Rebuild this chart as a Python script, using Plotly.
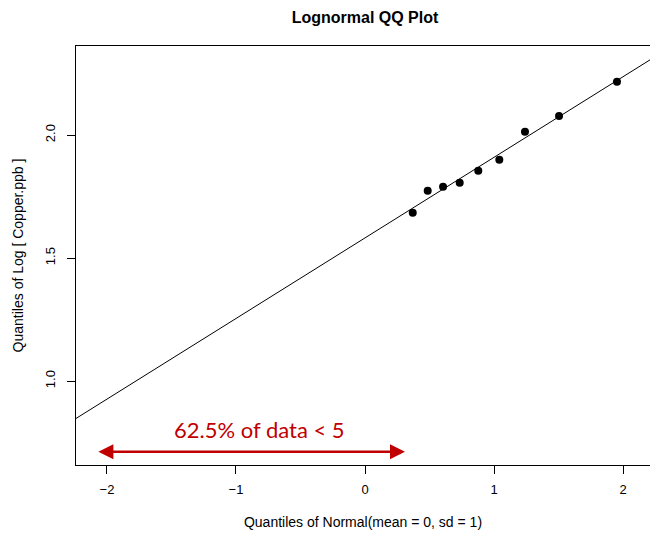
import plotly.graph_objects as go

# Normal scores and log10 copper values (uncensored portion of the sample)
normal_quantiles = [0.370, 0.486, 0.605, 0.734, 0.878, 1.041, 1.240, 1.504, 1.953]
log_copper = [1.684, 1.774, 1.790, 1.806, 1.855, 1.900, 2.013, 2.077, 2.217]

# Fitted QQ line
line_intercept = 1.582
line_slope = 0.3276

# Censoring annotation
censored_label = "62.5% of data < 5"
censored_span = [-2.078, 0.310]
censored_level = 0.713
label_pos = [-0.818, 0.805]

x_ticks = [-2, -1, 0, 1, 2]
y_ticks = [1.0, 1.5, 2.0]

x_range = [-2.240, 2.209]
y_range = [0.659, 2.362]

font_family = "Liberation Sans, Arial, Helvetica, sans-serif"
red = "#c00000"

fig = go.Figure()

line_x = x_range
line_y = [line_intercept + line_slope * v for v in line_x]
fig.add_trace(go.Scatter(
    x=line_x, y=line_y, mode="lines",
    line=dict(color="black", width=1), hoverinfo="skip", showlegend=False,
))

fig.add_trace(go.Scatter(
    x=normal_quantiles, y=log_copper, mode="markers",
    marker=dict(color="black", size=8), showlegend=False,
))

# Double-headed arrow marking the censored range
fig.add_annotation(
    x=censored_span[1], y=censored_level,
    ax=censored_span[0], ay=censored_level,
    xref="x", yref="y", axref="x", ayref="y",
    text="", showarrow=True, arrowside="end+start",
    arrowhead=2, arrowsize=1.2, arrowwidth=2.5, arrowcolor=red,
)
fig.add_annotation(
    x=label_pos[0], y=label_pos[1], xref="x", yref="y",
    text=censored_label, showarrow=False,
    font=dict(family="Lato, Open Sans, sans-serif", size=22, color=red),
)

fig.update_layout(
    width=650, height=533,
    margin=dict(l=76, r=0, t=46, b=68),
    paper_bgcolor="white", plot_bgcolor="white",
    font=dict(family=font_family, size=13, color="black"),
    title=dict(
        text="<b>Lognormal QQ Plot</b>", x=365 / 650, xref="container",
        xanchor="center", y=1 - 17 / 533, yref="container", yanchor="middle",
        font=dict(size=16, family=font_family, color="black"),
    ),
)

fig.update_xaxes(
    range=x_range, tickvals=x_ticks, ticks="outside", ticklen=8,
    ticklabelstandoff=4, tickfont=dict(size=13),
    tickcolor="black", showline=True, linecolor="black", linewidth=1,
    mirror=True, showgrid=False, zeroline=False,
    title=dict(text="Quantiles of Normal(mean = 0, sd = 1)", standoff=21,
               font=dict(size=14)),
)
fig.update_yaxes(
    range=y_range, tickvals=y_ticks, tickformat=".1f", tickangle=-90,
    ticks="outside", ticklen=8, tickcolor="black", ticklabelstandoff=7,
    tickfont=dict(size=13),
    showline=True, linecolor="black", linewidth=1,
    showgrid=False, zeroline=False,
    title=dict(text="Quantiles of Log [ Copper.ppb ]", standoff=15,
               font=dict(size=14)),
)

fig.write_html("out.html")
